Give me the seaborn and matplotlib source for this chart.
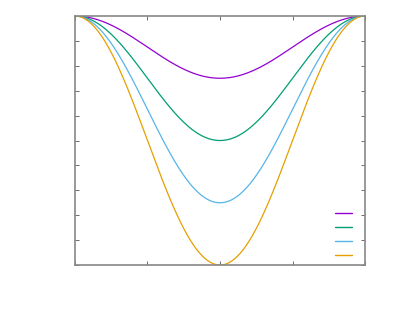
import numpy as np
import pandas as pd
import matplotlib
matplotlib.use("Agg")
import matplotlib.pyplot as plt
import seaborn as sns

# depth of each curve at mid-range
amplitudes = [0.25, 0.5, 0.75, 1.0]
colors = ["#9400d3", "#009e73", "#56b4e9", "#e69f00"]
x = np.linspace(0, 2 * np.pi, 200)

rows = []
for a in amplitudes:
    for xv in x:
        rows.append({"x": xv, "y": -a * (1 - np.cos(xv)) / 2, "amp": a})
df = pd.DataFrame(rows)

sns.set_style("ticks")
fig = plt.figure(figsize=(3.93, 3.14), dpi=100)
ax = fig.add_axes([0.1908, 0.156, 0.738, 0.793])

sns.lineplot(data=df, x="x", y="y", hue="amp", palette=colors, linewidth=0.9,
             ax=ax, legend=False)

ax.set_xlim(0, 2 * np.pi)
ax.set_ylim(-1, 0)
ax.set_xticks(np.linspace(0, 2 * np.pi, 5))
ax.set_yticks(np.linspace(-1, 0, 11))
ax.set_xticklabels([])
ax.set_yticklabels([])
ax.set_xlabel("")
ax.set_ylabel("")
ax.tick_params(direction="in", length=3, width=0.6, color="#555555",
               top=True, right=True)
for s in ax.spines.values():
    s.set_color("#888888")
    s.set_linewidth(1.2)

handles = [plt.Line2D([], [], color=c, linewidth=1.0) for c in colors]
ax.legend(handles, ["", "", "", ""], loc="lower right", frameon=False,
          fontsize=8, handlelength=1.5, handletextpad=0.85, labelspacing=0.36,
          borderaxespad=0.1, borderpad=0.25)

fig.savefig("out.png", dpi=100)
